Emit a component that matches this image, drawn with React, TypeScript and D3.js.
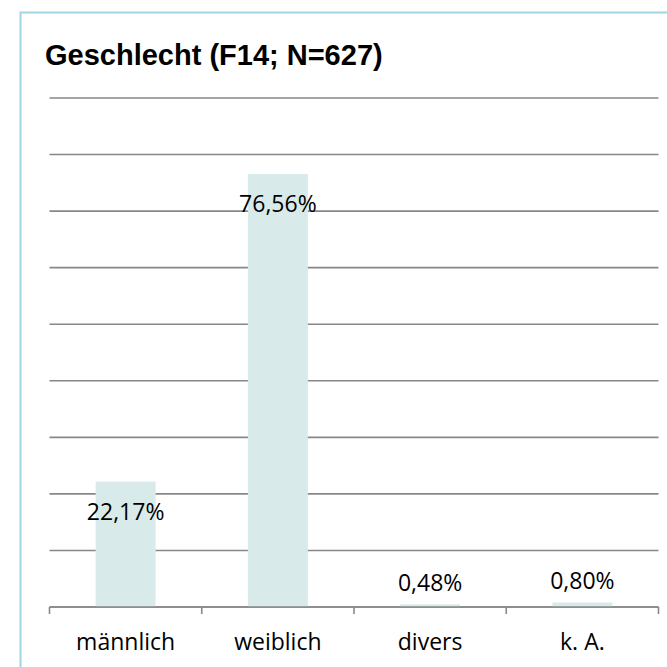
import React from 'react';
import * as d3 from 'd3';

const categories = ['männlich', 'weiblich', 'divers', 'k. A.'];
const values = [22.17, 76.56, 0.48, 0.80];
const valueLabels = ['22,17%', '76,56%', '0,48%', '0,80%'];
const gridValues = [0, 10, 20, 30, 40, 50, 60, 70, 80, 90];
const title = 'Geschlecht (F14; N=627)';

const W = 667;
const H = 667;
const left = 49.5;
const right = 658.5;
const top = 98;
const bottom = 607;

function App() {
    const x = d3.scaleBand().domain(categories).range([left, right])
        .paddingInner(0.606).paddingOuter(0.303);
    const y = d3.scaleLinear().domain([0, 90]).range([bottom, top]);

    // tick marks sit on the band boundaries
    const step = x.step();
    const tickXs = d3.range(categories.length + 1).map((i) => left + i * step);

    const labelFont = '"Open Sans", sans-serif';

    return (
        <div style={{ position: 'absolute', left: 0, top: 0 }}>
            <svg width={W} height={H} style={{ display: 'block', background: '#fff' }}>
                <rect x={20.5} y={12.5} width={700} height={700} fill="none" stroke="#a3d5e6" strokeWidth={2} />
                <text x={45} y={65} fontFamily='"Liberation Sans", Arial, sans-serif' fontWeight="bold" fontSize={29} fill="#000">
                    {title}
                </text>
                <g>
                    {gridValues.map((v) => (
                        <line key={v} x1={left} x2={right} y1={y(v)} y2={y(v)} stroke="#878787" strokeWidth={1.6} />
                    ))}
                </g>
                <g>
                    {categories.map((c, i) => (
                        <rect key={c} x={x(c)} y={y(values[i])} width={x.bandwidth()} height={bottom - y(values[i])} fill="#d8ebea" />
                    ))}
                </g>
                <g>
                    <line x1={left} x2={right} y1={bottom} y2={bottom} stroke="#878787" strokeWidth={1.6} />
                    {tickXs.map((t, i) => (
                        <line key={i} x1={t} x2={t} y1={bottom} y2={bottom + 7} stroke="#878787" strokeWidth={1.6} />
                    ))}
                </g>
                <g fontFamily={labelFont} fontSize={23} fill="#000" textAnchor="middle">
                    {categories.map((c, i) => {
                        const barTop = y(values[i]);
                        const inside = bottom - barTop > 40;
                        return (
                            <text key={c} x={(x(c) || 0) + x.bandwidth() / 2} y={inside ? barTop + 38 : barTop - 13}>
                                {valueLabels[i]}
                            </text>
                        );
                    })}
                </g>
                <g fontFamily={labelFont} fontSize={23} fill="#000" textAnchor="middle">
                    {categories.map((c) => (
                        <text key={c} x={(x(c) || 0) + x.bandwidth() / 2} y={650}>
                            {c}
                        </text>
                    ))}
                </g>
            </svg>
        </div>
    );
}

export default App;
